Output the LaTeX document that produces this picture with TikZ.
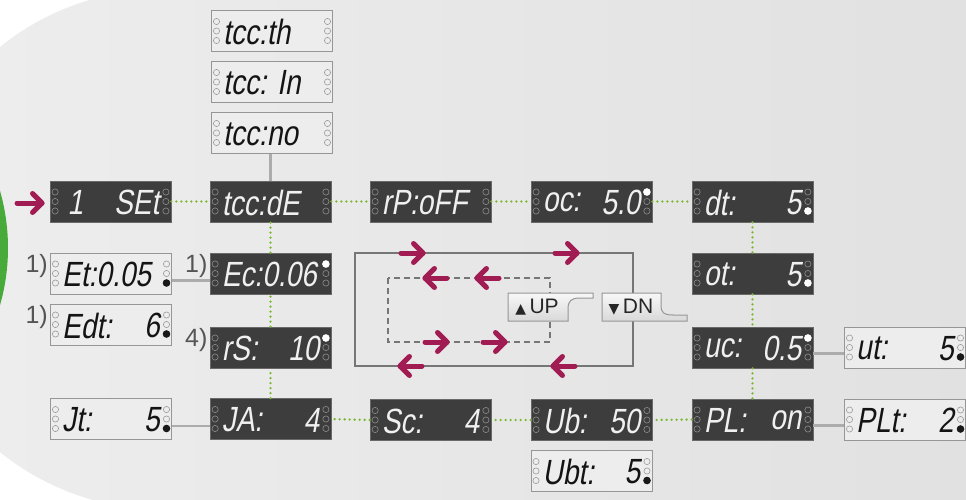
\documentclass[tikz,border=0pt]{standalone}
\usepackage{fontspec}
\setmainfont{Liberation Sans}
\newfontfamily\segfont[FakeSlant=0.18,FakeStretch=0.8]{Liberation Sans}
\newfontfamily\symfont{DejaVu Sans}
\usetikzlibrary{calc}
\definecolor{bgL}{RGB}{238,238,238}
\definecolor{bgR}{RGB}{225,225,225}
\definecolor{dkfill}{RGB}{61,61,61}
\definecolor{dkline}{RGB}{105,105,105}
\definecolor{ltfill}{RGB}{237,237,237}
\definecolor{ltline}{RGB}{150,150,150}
\definecolor{linkgreen}{RGB}{122,184,50}
\definecolor{linkgray}{RGB}{172,172,172}
\definecolor{loopgray}{RGB}{118,118,118}
\definecolor{arrowred}{RGB}{160,28,82}
\definecolor{ballgreen}{RGB}{72,170,58}
\definecolor{btnline}{RGB}{150,150,150}
\definecolor{labgray}{RGB}{85,85,85}
\tikzset{
  dk/.style={draw=dkline, fill=dkfill, line width=0.8pt, minimum width=121pt, minimum height=41pt, inner sep=0pt},
  lt/.style={draw=ltline, fill=ltfill, line width=1pt, minimum width=121pt, minimum height=41pt, inner sep=0pt},
  seg/.style={font=\segfont\fontsize{35}{35}\selectfont, inner sep=0pt},
  dktxt/.style={text=white!94!black},
  lttxt/.style={text=black!92},
  dkring/.style={draw=black!45, line width=0.6pt},
  ltring/.style={draw=black!40, line width=0.6pt},
  dkled/.style={fill=white},
  ltled/.style={fill=black!90},
  greenlink/.style={draw=linkgreen, line width=2.6pt, dash pattern=on 0pt off 5pt, line cap=round},
  graylink/.style={draw=linkgray, line width=2.5pt},
  redarrow/.style={draw=arrowred, line width=5pt, line cap=round, line join=round},
  numlabel/.style={font=\fontsize{25}{25}\selectfont, text=labgray, anchor=east, inner sep=0pt},
  button/.style={draw=btnline, line width=1pt, top color=white!97!black, bottom color=black!15},
  btntext/.style={font=\fontsize{21}{21}\selectfont, text=black!85, inner sep=0pt},
}
% #1 name, #2 kind (dk/lt), #3 centre, #4 left text, #5 right text, #6 lit LED (t/b/n)
\newcommand\segbox[6]{%
  \node[#2] (#1) at (#3) {};
  \node[seg, #2txt, anchor=west] at ($(#1.west)+(12,1)$) {#4};
  \node[seg, #2txt, anchor=east] at ($(#1.east)+(-12,1)$) {#5};
  \foreach \dy in {-9.5,0,9.5} {
    \draw[#2ring] ($(#1.west)+(5.5,\dy)$) circle[radius=3.1pt];
    \draw[#2ring] ($(#1.east)+(-5.5,\dy)$) circle[radius=3.1pt];
  }
  \if#6t\fill[#2led] ($(#1.east)+(-5.5,-9.5)$) circle[radius=3.8pt];\fi
  \if#6b\fill[#2led] ($(#1.east)+(-5.5,9.5)$) circle[radius=3.8pt];\fi
}
% #1 tip x, #2 y, #3 direction (1 right, -1 left), #4 shaft length
\newcommand\redarr[4]{%
  \draw[redarrow] ({#1-(#3)*(#4)},#2) -- (#1,#2);
  \draw[redarrow] ({#1-(#3)*9.5},{#2-9.5}) -- (#1,#2) -- ({#1-(#3)*9.5},{#2+9.5});
}
\begin{document}
\begin{tikzpicture}[x=1pt,y=-1pt]
\useasboundingbox (0,0) rectangle (966,499);
\fill[white] (0,0) rectangle (966,499);
% background
\shade[left color=bgL, right color=bgR] (163,-10.5) arc[start angle=270, end angle=90, radius=260] -- (980,509.5) -- (980,-10.5) -- cycle;
\fill[ballgreen] (-199,248) circle[radius=207pt];

% loop diagram
\draw[loopgray, line width=2pt] (355,253) rectangle (633,366);
\draw[loopgray, line width=2pt, dash pattern=on 6pt off 4pt] (388,278) rectangle (550,342);
\redarr{423}{253}{1}{22}
\redarr{577}{253}{1}{22}
\redarr{400}{366}{-1}{22}
\redarr{553}{366}{-1}{22}
\redarr{425}{278}{-1}{22}
\redarr{477}{278}{-1}{22}
\redarr{447}{342}{1}{22}
\redarr{505}{342}{1}{22}
% buttons
\path[button] (508,293) -- (593,293) -- (593,298) -- (580,298) .. controls (571,298) and (568,301) .. (568,309) -- (568,321) -- (508,321) -- cycle;
\node[btntext] (up) at (537,307.5) {{\symfont\fontsize{14}{14}\selectfont ▲}\,UP};
\path[button] (602,293) -- (661,293) -- (661,305) .. controls (661,313) and (664,315) .. (673,315) -- (687,315) -- (687,321) -- (602,321) -- cycle;
\node[btntext] (dn) at (631,307.5) {{\symfont\fontsize{14}{14}\selectfont ▼}\,DN};

% entry arrow
\redarr{42}{203}{1}{25}

% displays
\segbox{th}{lt}{272,31}{tcc:th}{}{n}
\segbox{in}{lt}{272,82}{tcc: In}{}{n}
\segbox{no}{lt}{272,133}{tcc:no}{}{n}
\segbox{set}{dk}{110.5,201.5}{\,1}{SEt}{n}
\segbox{de}{dk}{270.5,201.5}{tcc:dE}{}{n}
\segbox{rp}{dk}{430.5,201.5}{rP:oFF}{}{n}
\segbox{oc}{dk}{591.5,201.5}{oc:}{5.0}{t}
\segbox{dt}{dk}{752.5,201.5}{dt:}{5}{b}
\segbox{ot}{dk}{752.5,273.5}{ot:}{5}{b}
\segbox{uc}{dk}{752.5,347.5}{uc:}{0.5}{t}
\segbox{pl}{dk}{752.5,419.5}{PL:}{on}{n}
\segbox{ut}{lt}{905,347.5}{ut:}{5}{b}
\segbox{plt}{lt}{905,419.5}{PLt:}{2}{b}
\segbox{ub}{dk}{591.5,420}{Ub:}{50}{n}
\segbox{ubt}{lt}{591.5,471}{Ubt:}{5}{b}
\segbox{sc}{dk}{430.5,420}{Sc:}{4}{n}
\segbox{ja}{dk}{270.5,419}{JA:}{4}{n}
\segbox{jt}{lt}{111,419}{Jt:}{5}{b}
\segbox{rs}{dk}{270.5,347.5}{rS:}{10}{t}
\segbox{ec}{dk}{270.5,273.5}{Ec:0.06}{}{t}
\segbox{et}{lt}{111,273.5}{Et:0.05}{}{b}
\segbox{edt}{lt}{111,324.5}{Edt:}{6}{b}

% footnote labels
\node[numlabel] (n1) at ($(et.west)+(-2,-7)$) {1)};
\node[numlabel] (n2) at ($(ec.west)+(-2,-7)$) {1)};
\node[numlabel] (n3) at ($(edt.west)+(-2,-7)$) {1)};
\node[numlabel] (n4) at ($(rs.west)+(-2,-7)$) {4)};

% green dotted main chain
\draw[greenlink] (set.east) -- (de.west);
\draw[greenlink] (de.east) -- (rp.west);
\draw[greenlink] (rp.east) -- (oc.west);
\draw[greenlink] (oc.east) -- (dt.west);
\draw[greenlink] (dt.south) -- (ot.north);
\draw[greenlink] (ot.south) -- (uc.north);
\draw[greenlink] (uc.south) -- (pl.north);
\draw[greenlink] (pl.west) -- (ub.east);
\draw[greenlink] (ub.west) -- (sc.east);
\draw[greenlink] (sc.west) -- (ja.east);
\draw[greenlink] (ja.north) -- (rs.south);
\draw[greenlink] (rs.north) -- (ec.south);
\draw[greenlink] (ec.north) -- (de.south);

% grey side links
\draw[graylink] (no.south -| de.north) -- (de.north);
\draw[graylink] ($(et.east)+(0,7)$) -- ($(ec.west)+(0,7)$);
\draw[graylink] ($(jt.east)+(0,7)$) -- ($(ja.west)+(0,7)$);
\draw[graylink] ($(uc.east)+(0,6)$) -- ($(ut.west)+(0,6)$);
\draw[graylink] ($(pl.east)+(0,6)$) -- ($(plt.west)+(0,6)$);
\end{tikzpicture}
\end{document}
